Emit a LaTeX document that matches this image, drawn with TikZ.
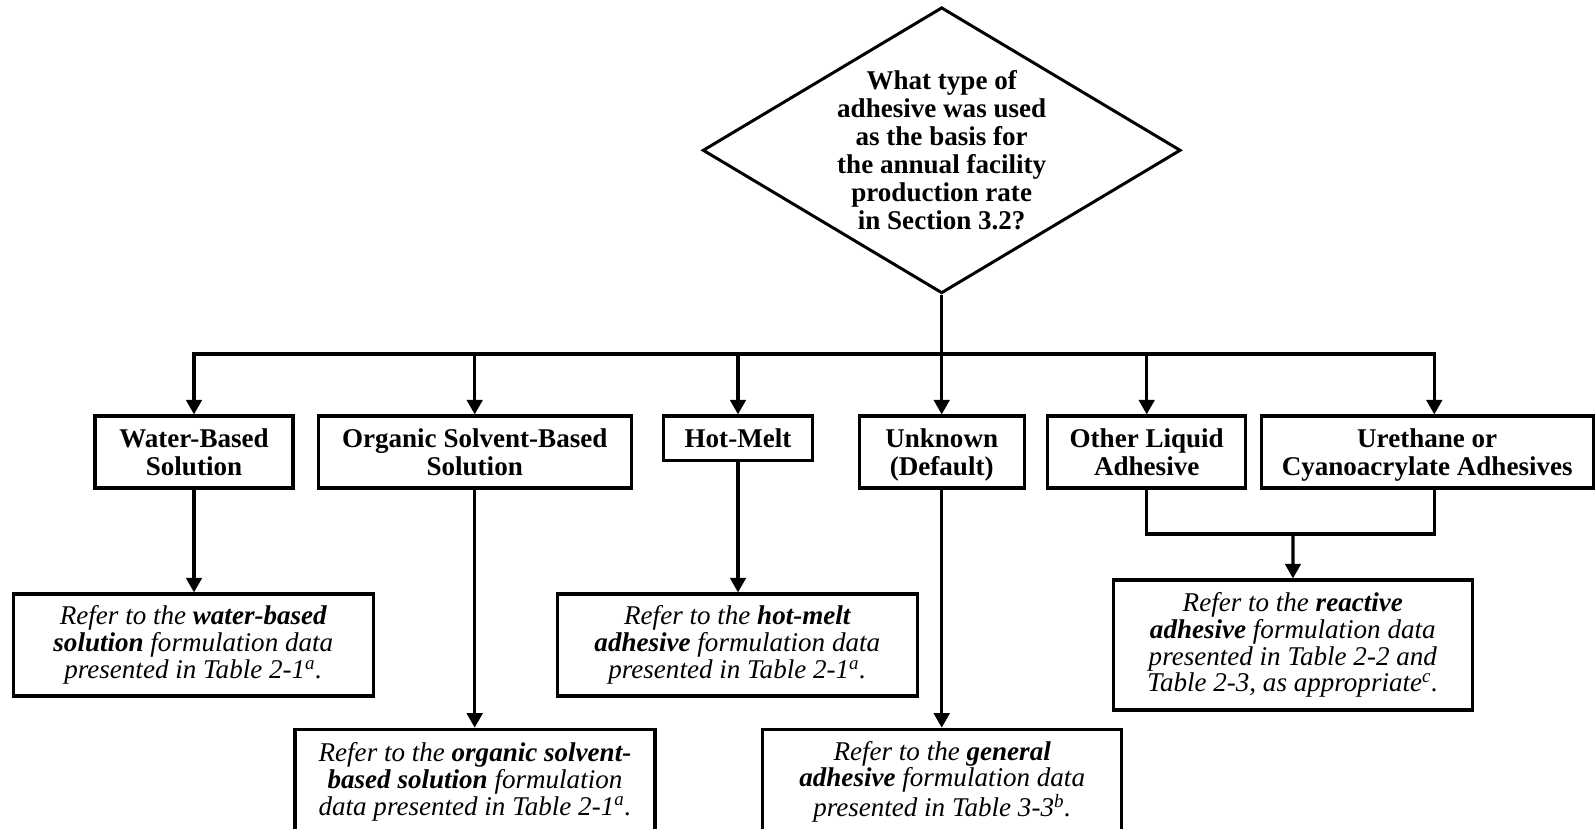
\documentclass[tikz,border=0pt]{standalone}
\usepackage{fontspec}
\setmainfont{Liberation Serif}
\usetikzlibrary{shapes}
\usetikzlibrary{positioning}
\usetikzlibrary{arrows.meta}
\tikzset{
    mydiam/.style = {diamond, line width=1.7pt, draw=black, inner sep=0pt, minimum width=9.56cm, minimum height=5.72cm},
    mytext/.style = {align=center, inner sep=0pt, font=\bfseries\fontsize{15.4}{16}\selectfont, text=black},
    mybox/.style = {rectangle, line width=1.8pt, draw=black, align=center, fill=white, inner sep=0pt, text depth=0pt, minimum height=1.44cm, font=\bfseries\fontsize{15.4}{15.8}\selectfont, text=black},
    myboxi/.style = {rectangle, line width=1.8pt, draw=black, align=center, fill=white, inner sep=0pt, minimum width=7.2cm, minimum height=2.04cm, font=\itshape\fontsize{15.4}{15.2}\selectfont, text=black},
    edgen/.style = {-, line width=1.8pt, black},
    edgea/.style = {-{Triangle[width=0.31cm,length=0.29cm]}, line width=1.8pt, black}
}

\begin{document}
\begin{tikzpicture}
\useasboundingbox (0,0) rectangle (31.9,-16.58);
\node[mydiam] at (18.834, -3.006) (quest) {};
\node[mytext] at (quest.center) (questtxt) {What type of\\ adhesive was used\\ as the basis for\\ the annual facility\\ production rate\\ in Section 3.2?};
%
\node[mybox, minimum width=3.96cm] at (3.88, -9.04) (water) {Water-Based\\ Solution};
\node[mybox, minimum width=6.26cm] at (9.494, -9.04) (organic) {Organic Solvent-Based\\ Solution};
\node[mybox, minimum width=2.98cm, minimum height=0.894cm] at (14.76, -8.766) (hotmelt) {Hot-Melt};
\node[mybox, minimum width=3.30cm] at (18.834, -9.04) (unknown) {Unknown\\ (Default)};
\node[mybox, minimum width=3.96cm] at (22.934, -9.04) (otherliq) {Other Liquid\\ Adhesive};
\node[mybox, minimum width=6.64cm] at (28.544, -9.04) (urethane) {Urethane or\\ Cyanoacrylate Adhesives};
%
\node[myboxi] at (3.866, -12.9) (waterbot) {Refer to the \textbf{water-based}\\ \textbf{solution} formulation data\\ presented in Table 2-1\textsuperscript{a}.};
\node[myboxi, minimum height=2.1cm] at (9.5, -15.636) (organicbot) {Refer to the \textbf{organic solvent-}\\ \textbf{based solution} formulation\\ data presented in Table 2-1\textsuperscript{a}.};
\node[myboxi] at (14.746, -12.9) (hotmeltbot) {Refer to the \textbf{hot-melt}\\ \textbf{adhesive} formulation data\\ presented in Table 2-1\textsuperscript{a}.};
\node[myboxi, minimum width=7.18cm, minimum height=2.1cm] at (18.844, -15.636) (unknownbot) {Refer to the \textbf{general}\\ \textbf{adhesive} formulation data\\ presented in Table 3-3\textsuperscript{b}.};
\node[myboxi, minimum width=7.18cm, minimum height=2.6cm] at (25.856, -12.9) (reactive) {Refer to the \textbf{reactive}\\ \textbf{adhesive} formulation data\\ presented in Table 2-2 and\\ Table 2-3, as appropriate\textsuperscript{c}.};
%
\coordinate (bus) at (18.834, -7.08);
\coordinate (busr) at (28.686, -7.08);
\coordinate (join) at (25.86, -10.68);
%
\draw[edgea] (quest.south) -- (unknown);
\draw[edgea] (bus) -| (water);
\draw[edgea] (bus) -| (busr |- urethane.north);
\draw[edgea] (organic |- bus) -- (organic);
\draw[edgea] (hotmelt |- bus) -- (hotmelt);
\draw[edgea] (otherliq |- bus) -- (otherliq);
%
\draw[edgea] (water) -- (water |- waterbot.north);
\draw[edgea] (organic) -- (organic |- organicbot.north);
\draw[edgea] (hotmelt) -- (hotmelt |- hotmeltbot.north);
\draw[edgea] (unknown) -- (unknown |- unknownbot.north);
\draw[edgen] (otherliq) |- (join -| busr) -- (busr |- urethane.south);
\draw[edgea] (join) -- (reactive);

\end{tikzpicture}
\end{document}
